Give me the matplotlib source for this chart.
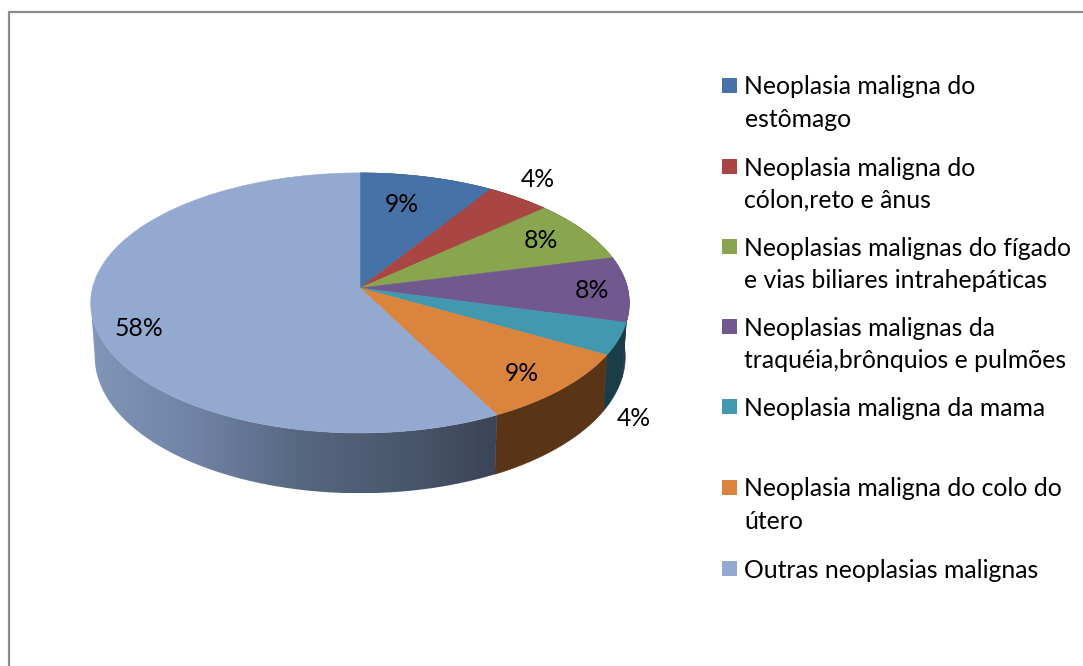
import numpy as np
import matplotlib
matplotlib.use("Agg")
import matplotlib.pyplot as plt
from matplotlib.colors import to_rgb
from matplotlib.patches import Polygon

# ---- data ----
categories = [
    "Neoplasia maligna do\nestômago",
    "Neoplasia maligna do\ncólon,reto e ânus",
    "Neoplasias malignas do fígado\ne vias biliares intrahepáticas",
    "Neoplasias malignas da\ntraquéia,brônquios e pulmões",
    "Neoplasia maligna da mama",
    "Neoplasia maligna do colo do\nútero",
    "Outras neoplasias malignas",
]
values = [9.0, 4.3, 7.8, 8.1, 4.0, 9.2, 57.6]

# ---- style ----
top_colors = ["#4672A8", "#A94543", "#89A54E", "#71588F", "#4198AF", "#DB843D", "#93A9CF"]
wall_colors = ["#2A4465", "#652928", "#52632F", "#3E2F55", "#1B3D4A", "#5A3417", None]
blue_wall_x = [90, 200, 300, 400, 498]
blue_wall_rgb = ["#8196B8", "#6F82A3", "#566780", "#4A586E", "#3C4356"]
label_offsets = [(-25, 27), (19, -18), (-43, 10), (-36, 1), (15, 80), (-40, -15), (46, 9)]
legend_y = [85, 166, 246, 326, 406, 487, 568]
FONT = "Lato"
FS = 17.8
LINE = 32.5

# perspective disc geometry, pixels
CX, CY, R, H, K = 360.0, 288.0, 267.5, 128.3, 0.115
WALL_D, WALL_SX, WALL_SY = 53.0, 0.985, 1.05


def rim(theta, lower=False):
    u, v = np.sin(theta), np.cos(theta)
    den = 1 + K * v
    if lower:
        return CX + WALL_SX * R * u / den, CY + WALL_D - WALL_SY * H * v / den
    return CX + R * u / den, CY - H * v / den


fig = plt.figure(figsize=(10.83, 6.66), dpi=100, facecolor="white")
ax = fig.add_axes([0, 0, 1, 1])

# frame
ax.plot([9, 9, 1083], [666, 12, 12], color="#8C8C8C", lw=1.6, solid_joinstyle="miter")

edges = 2 * np.pi * np.concatenate([[0], np.cumsum(values)]) / np.sum(values)
blue_rgb = np.array([to_rgb(c) for c in blue_wall_rgb])

# side walls
for i in range(len(values)):
    end = edges[i + 1]
    if wall_colors[i] is None:
        # stop at the left silhouette; everything further round is behind the top face
        end = min(end, 2 * np.pi - np.arccos(-K))
    th = np.linspace(edges[i], end, 300)
    xt, yt = rim(th)
    xb, yb = rim(th, lower=True)
    pts = np.vstack([np.column_stack([xt, yt]), np.column_stack([xb, yb])[::-1]])
    if wall_colors[i] is None:
        clip = Polygon(pts, closed=True, transform=ax.transData, facecolor="none", edgecolor="none")
        ax.add_patch(clip)
        xs = np.linspace(pts[:, 0].min(), pts[:, 0].max(), 400)
        grad = np.stack([np.interp(xs, blue_wall_x, blue_rgb[:, k]) for k in range(3)], axis=-1)[None, :, :]
        im = ax.imshow(grad, extent=(xs[0], xs[-1], pts[:, 1].max(), pts[:, 1].min()),
                       aspect="auto", interpolation="bilinear", zorder=2)
        im.set_clip_path(clip)
    else:
        ax.add_patch(Polygon(pts, closed=True, facecolor=wall_colors[i], edgecolor=wall_colors[i],
                             lw=0.4, zorder=2))

# top faces
for i in range(len(values)):
    th = np.linspace(edges[i], edges[i + 1], 300)
    x, y = rim(th)
    pts = np.vstack([[CX, CY], np.column_stack([x, y])])
    ax.add_patch(Polygon(pts, closed=True, facecolor=top_colors[i], edgecolor=top_colors[i], lw=0.4, zorder=3))

# percentage labels
for i, v in enumerate(values):
    mid = (edges[i] + edges[i + 1]) / 2
    mx, my = rim(mid)
    dx, dy = label_offsets[i]
    ax.text(mx + dx, my + dy, f"{v / sum(values) * 100:.0f}%", ha="center", va="center",
            family=FONT, fontsize=FS, color="black", zorder=5)

# legend
for i, name in enumerate(categories):
    y0 = legend_y[i]
    ax.add_patch(plt.Rectangle((722, y0 - 7.5), 15, 15, facecolor=top_colors[i], edgecolor="none", zorder=4))
    for k, line in enumerate(name.split("\n")):
        ax.text(744.5, y0 + k * LINE, line, ha="left", va="center_baseline",
                family=FONT, fontsize=FS, color="black", zorder=5)

ax.set_xlim(0, 1083)
ax.set_ylim(666, 0)
ax.axis("off")

fig.savefig("out.png", dpi=100)
